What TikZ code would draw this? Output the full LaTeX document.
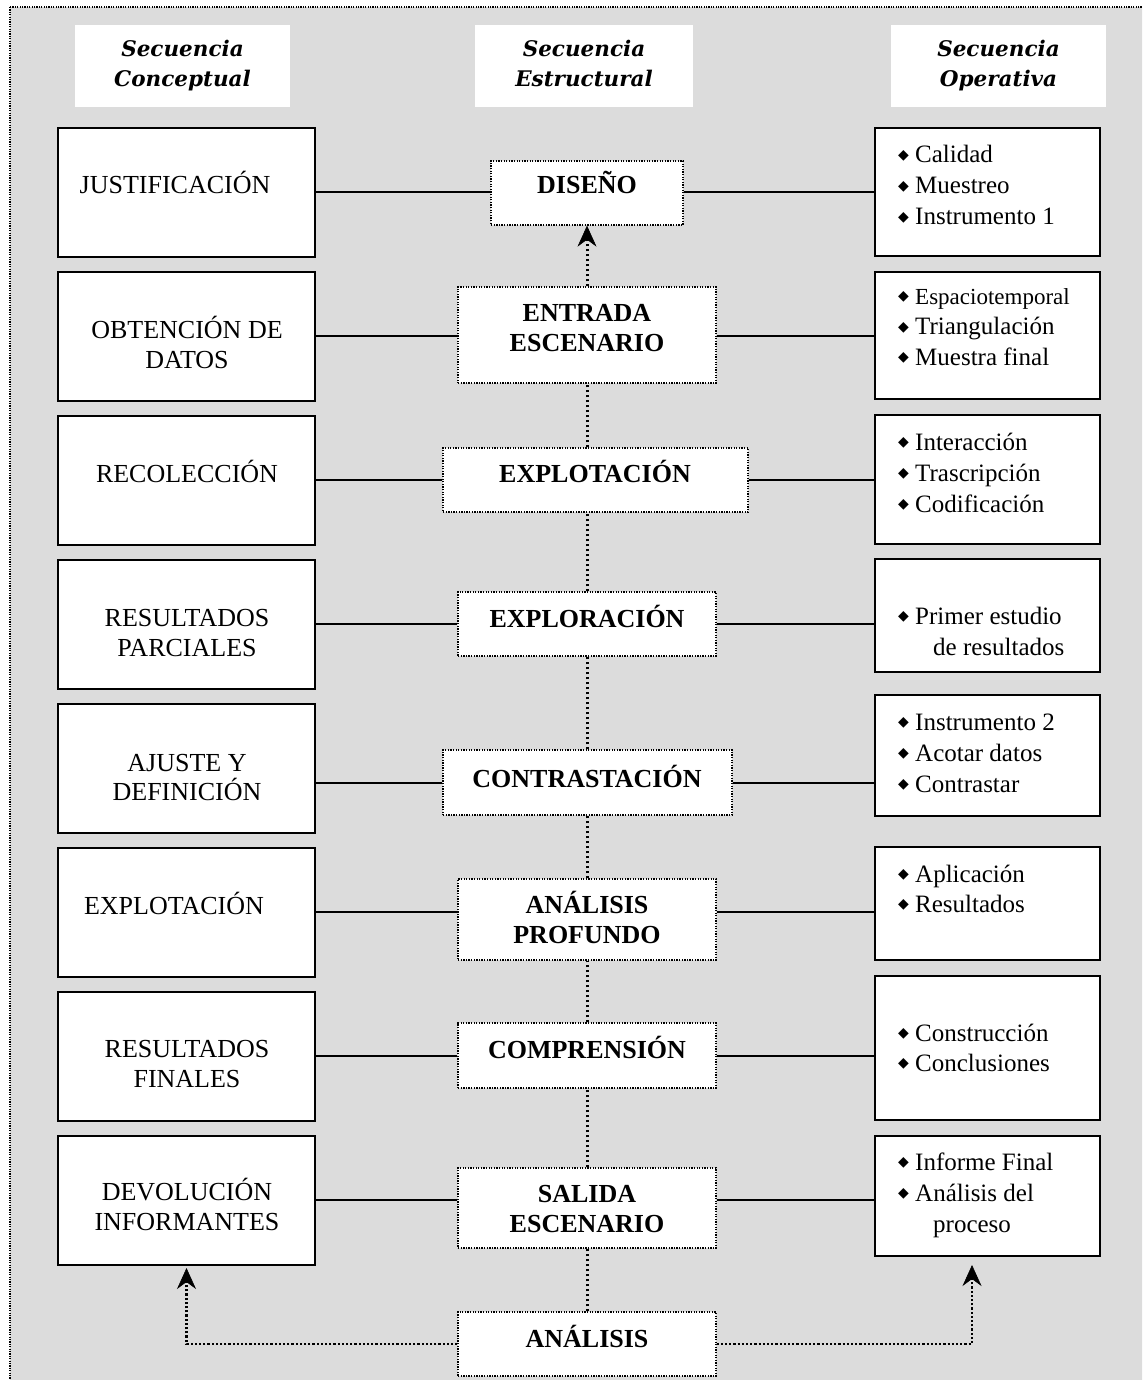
\documentclass[tikz,border=0pt]{standalone}
\usepackage{fontspec}
\setmainfont{Liberation Serif}
\newfontfamily\hdrfont{DejaVu Serif}
\newfontfamily\symfont{DejaVu Sans}
\usetikzlibrary{arrows.meta}
\definecolor{panel}{RGB}{220,220,220}
% bullet mark used in the right-hand column
\newcommand\bul{\makebox[17pt][l]{\raisebox{3.5pt}{\symfont\fontsize{14}{14}\selectfont ◆}}}

\tikzset{
  solidbox/.style={draw, line width=2pt, fill=white, inner sep=0pt},
  dotbox/.style={draw, line width=1.3pt, dash pattern=on 1.3pt off 1.3pt, fill=white, inner sep=0pt},
  hdrbox/.style={fill=white, inner sep=0pt},
  ltxt/.style={anchor=base, inner sep=0pt, font=\fontsize{26}{30}\selectfont},
  mtxt/.style={anchor=base, inner sep=0pt, font=\fontsize{26}{30}\selectfont\bfseries},
  rtxt/.style={anchor=base west, inner sep=0pt, font=\fontsize{25}{30}\selectfont},
  htxt/.style={anchor=base, inner sep=0pt, font=\hdrfont\bfseries\itshape\fontsize{21.5}{26}\selectfont},
  outer/.style={draw=black, line width=1.2pt, dash pattern=on 1.2pt off 1.2pt},
  link/.style={line width=2pt},
  spine/.style={line width=3pt, dash pattern=on 2.6pt off 2.4pt},
  tip/.style={-{Stealth[length=21pt,width=19pt,inset=7pt,line width=0.6pt]}},
  feed/.style={line width=2.4pt, dash pattern=on 2.2pt off 2pt, tip},
}

\begin{document}
\begin{tikzpicture}[x=1pt,y=-1pt]
\useasboundingbox (0,0) rectangle (1142,1380);
\clip (0,0) rectangle (1142,1380);
\fill[white] (0,0) rectangle (1142,1380);

% grey panel with its dotted frame
\path[fill=panel, outer] (10,7) rectangle (1170,1400);

% column headings
\node[hdrbox, minimum width=215pt, minimum height=82pt] (H1) at (182.5,66) {};
\node[hdrbox, minimum width=218pt, minimum height=82pt] (H2) at (584,66) {};
\node[hdrbox, minimum width=215pt, minimum height=82pt] (H3) at (998.5,66) {};
\node[htxt] (h1a) at (182.5,57) {Secuencia};
\node[htxt] (h1b) at (182.5,87) {Conceptual};
\node[htxt] (h2a) at (584,57) {Secuencia};
\node[htxt] (h2b) at (584,87) {Estructural};
\node[htxt] (h3a) at (998.5,57) {Secuencia};
\node[htxt] (h3b) at (998.5,87) {Operativa};

% left column boxes
\foreach \n/\cy in {1/192.5,2/336.5,3/480.5,4/624.5,5/768.5,6/912.5,7/1056.5,8/1200.5}
  \node[solidbox, minimum width=257pt, minimum height=129pt] (L\n) at (186.5,\cy) {};

% right column boxes
\foreach \n/\cy/\h in {1/192/128,2/335.5/127,3/479.5/129,4/615.5/113,5/755.5/121,6/903.5/113,7/1048/144,8/1196/120}
  \node[solidbox, minimum width=225pt, minimum height=\h pt] (R\n) at (987.5,\cy) {};

% central stages
\foreach \n/\cx/\cy/\w/\h in {1/587/193/192/64, 2/587/335/258/96, 3/595.5/480/305/64,
    4/587/624/258/64, 5/587.5/782.5/289/65, 6/587/919.5/258/81, 7/587/1055.5/258/65,
    8/587/1208/258/80, 9/587/1344/258/64}
  \node[dotbox, minimum width=\w pt, minimum height=\h pt] (M\n) at (\cx,\cy) {};

% horizontal links of each row
\foreach \n/\y in {1/192,2/336,3/480,4/624,5/783,6/912,7/1056,8/1200}{
  \coordinate (row\n) at (0,\y);
  \draw[link] (L\n.east |- row\n) -- (M\n.west |- row\n);
  \draw[link] (M\n.east |- row\n) -- (R\n.west |- row\n);
}

% dotted spine through the central stages
\coordinate (sx) at (587,0);
\foreach \a/\b in {9/8,8/7,7/6,6/5,5/4,4/3,3/2}
  \draw[spine] (M\a.north -| sx) -- (M\b.south -| sx);
\draw[spine, tip] (M2.north -| sx) -- (M1.south -| sx);

% feedback from the final analysis
\draw[feed] (M9.west) -| ([yshift=-2pt]L8.south);
\draw[feed] (M9.east) -| ([xshift=-15.5pt,yshift=-8pt]R8.south);

% left column texts
\foreach \n/\x/\y/\t in {1/175/194/{JUSTIFICACIÓN}, 2/187/338/{OBTENCIÓN DE}, 3/187/368/{DATOS},
    4/187/482/{RECOLECCIÓN}, 5/187/626/{RESULTADOS}, 6/187/656/{PARCIALES},
    7/187/771/{AJUSTE Y}, 8/187/800/{DEFINICIÓN}, 9/174/914/{EXPLOTACIÓN},
    10/187/1057/{RESULTADOS}, 11/187/1087/{FINALES}, 12/187/1200/{DEVOLUCIÓN},
    13/187/1230/{INFORMANTES}}
  \node[ltxt] (lt\n) at (\x,\y) {\t};

% central texts
\foreach \n/\x/\y/\t in {1/587/194/{DISEÑO}, 2/587/321/{ENTRADA}, 3/587/351/{ESCENARIO},
    4/595/482/{EXPLOTACIÓN}, 5/587/627/{EXPLORACIÓN}, 6/587/787/{CONTRASTACIÓN},
    7/587/913/{ANÁLISIS}, 8/587/943/{PROFUNDO}, 9/587/1058/{COMPRENSIÓN},
    10/587/1202/{SALIDA}, 11/587/1232/{ESCENARIO}, 12/587/1347/{ANÁLISIS}}
  \node[mtxt] (mt\n) at (\x,\y) {\t};

% right column texts
\foreach \n/\x/\y/\t in {1/898/163/{\bul Calidad}, 2/898/194/{\bul Muestreo},
    3/898/225/{\bul Instrumento 1},
    4/898/304/{\bul{\fontsize{23}{30}\selectfont Espaciotemporal}},
    5/898/334.5/{\bul Triangulación}, 6/898/365/{\bul Muestra final},
    7/898/450/{\bul Interacción}, 8/898/481/{\bul Trascripción}, 9/898/512/{\bul Codificación},
    10/898/624/{\bul Primer estudio}, 11/933/655/{de resultados},
    12/898/730/{\bul Instrumento 2}, 13/898/761/{\bul Acotar datos}, 14/898/792/{\bul Contrastar},
    15/898/882/{\bul Aplicación}, 16/898/912/{\bul Resultados},
    17/898/1041/{\bul Construcción}, 18/898/1071/{\bul Conclusiones},
    19/898/1170/{\bul Informe Final}, 20/898/1201/{\bul Análisis del}, 21/933/1232/{proceso}}
  \node[rtxt] (rt\n) at (\x,\y) {\t};
\end{tikzpicture}
\end{document}
